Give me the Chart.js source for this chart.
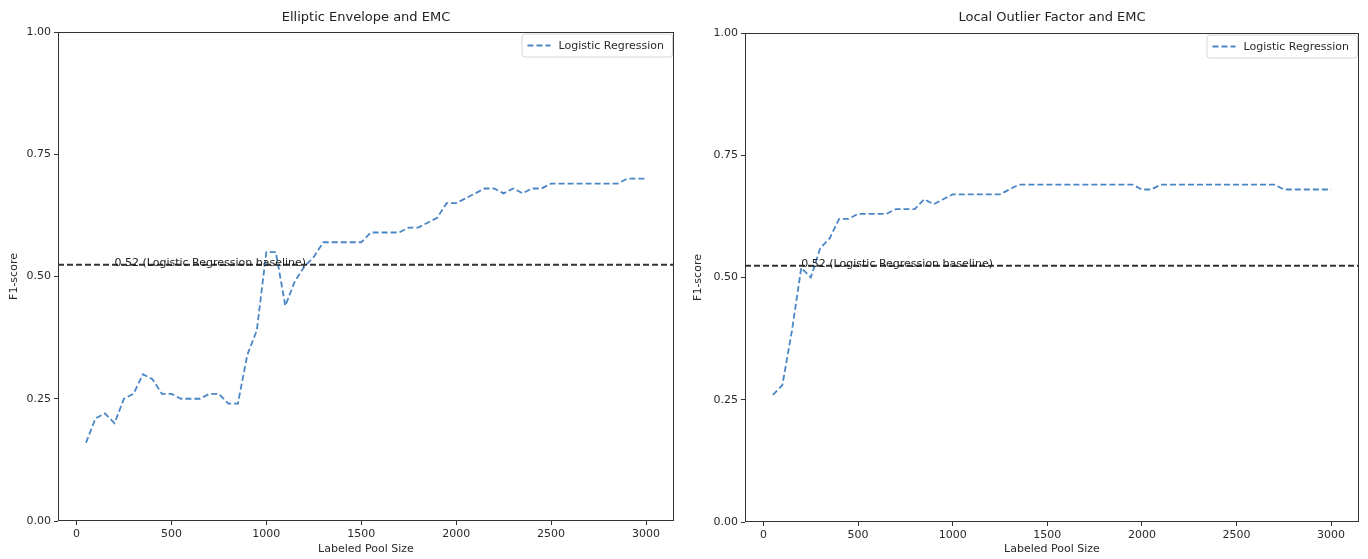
<!DOCTYPE html>
<html>
<head>
<meta charset="utf-8">
<title>F1-score vs Labeled Pool Size</title>
<script src="https://cdn.jsdelivr.net/npm/chart.js@4.4.1/dist/chart.umd.min.js"></script>
<style>
  html, body { margin: 0; padding: 0; background: #fff; }
  #wrap { position: relative; width: 1368px; height: 559px; }
  .panel { position: absolute; top: 0; width: 684px; height: 559px; }
</style>
</head>
<body>
<div id="wrap">
  <div class="panel" style="left:0"><canvas id="eeChart" width="684" height="559"></canvas></div>
  <div class="panel" style="left:684px"><canvas id="lofChart" width="684" height="559"></canvas></div>
</div>
<script>
// labeled pool sizes: 50, 100, ..., 3000
const poolSizes = [
  50, 100, 150, 200, 250, 300, 350, 400, 450, 500,
  550, 600, 650, 700, 750, 800, 850, 900, 950, 1000,
  1050, 1100, 1150, 1200, 1250, 1300, 1350, 1400, 1450, 1500,
  1550, 1600, 1650, 1700, 1750, 1800, 1850, 1900, 1950, 2000,
  2050, 2100, 2150, 2200, 2250, 2300, 2350, 2400, 2450, 2500,
  2550, 2600, 2650, 2700, 2750, 2800, 2850, 2900, 2950, 3000
];

// F1-score of logistic regression, Elliptic Envelope + EMC
const ellipticF1 = [
  0.16, 0.21, 0.22, 0.20, 0.25, 0.26, 0.30, 0.29, 0.26, 0.26,
  0.25, 0.25, 0.25, 0.26, 0.26, 0.24, 0.24, 0.34, 0.39, 0.55,
  0.55, 0.44, 0.49, 0.52, 0.54, 0.57, 0.57, 0.57, 0.57, 0.57,
  0.59, 0.59, 0.59, 0.59, 0.60, 0.60, 0.61, 0.62, 0.65, 0.65,
  0.66, 0.67, 0.68, 0.68, 0.67, 0.68, 0.67, 0.68, 0.68, 0.69,
  0.69, 0.69, 0.69, 0.69, 0.69, 0.69, 0.69, 0.70, 0.70, 0.70
];

// F1-score of logistic regression, Local Outlier Factor + EMC
const lofF1 = [
  0.26, 0.28, 0.39, 0.52, 0.50, 0.56, 0.58, 0.62, 0.62, 0.63,
  0.63, 0.63, 0.63, 0.64, 0.64, 0.64, 0.66, 0.65, 0.66, 0.67,
  0.67, 0.67, 0.67, 0.67, 0.67, 0.68, 0.69, 0.69, 0.69, 0.69,
  0.69, 0.69, 0.69, 0.69, 0.69, 0.69, 0.69, 0.69, 0.69, 0.68,
  0.68, 0.69, 0.69, 0.69, 0.69, 0.69, 0.69, 0.69, 0.69, 0.69,
  0.69, 0.69, 0.69, 0.69, 0.68, 0.68, 0.68, 0.68, 0.68, 0.68
];

const baselineF1 = 0.524;   // full-data logistic regression
const baselineLabelAt = 200;

const xTicks = [0, 500, 1000, 1500, 2000, 2500, 3000];
const yTicks = [0, 0.25, 0.5, 0.75, 1.0];
const xMin = -97.5, xMax = 3147.5;

const FONT = 'DejaVu Sans';
const lineBlue = '#4a86c6';
const ink = '#333333';
const textInk = '#2a2a2a';

// frame, baseline caption and in-axes legend
const decorPlugin = {
  id: 'decor',
  afterDraw(chart) {
    const { ctx, chartArea: a, scales } = chart;
    ctx.save();
    ctx.strokeStyle = ink;
    ctx.lineWidth = 1;
    ctx.strokeRect(a.left + 0.5, a.top + 0.5, a.right - a.left - 1, a.bottom - a.top - 1);

    // caption above the baseline
    ctx.fillStyle = '#222';
    ctx.font = '11px "' + FONT + '"';
    ctx.textBaseline = 'alphabetic';
    ctx.textAlign = 'left';
    const bx = scales.x.getPixelForValue(baselineLabelAt);
    const by = scales.y.getPixelForValue(baselineF1);
    ctx.fillText(baselineF1.toFixed(2) + ' (Logistic Regression baseline)', bx, by + 1);

    // legend box, upper right
    const label = chart.data.datasets[0].label;
    ctx.font = '11px "' + FONT + '"';
    const tw = ctx.measureText(label).width;
    const w = tw + 45, h = 23;
    const x0 = a.right - 2 - w, y0 = a.top + 1.5;
    ctx.fillStyle = 'rgba(255,255,255,0.85)';
    ctx.strokeStyle = '#d6d6d6';
    ctx.beginPath();
    ctx.roundRect(x0 + 0.5, y0 + 0.5, w, h, 3);
    ctx.fill();
    ctx.stroke();
    ctx.strokeStyle = lineBlue;
    ctx.lineWidth = 1.8;
    ctx.setLineDash([6, 3]);
    ctx.beginPath();
    ctx.moveTo(x0 + 6, y0 + h / 2 + 0.5);
    ctx.lineTo(x0 + 29, y0 + h / 2 + 0.5);
    ctx.stroke();
    ctx.setLineDash([]);
    ctx.fillStyle = textInk;
    ctx.textBaseline = 'middle';
    ctx.fillText(label, x0 + 37, y0 + h / 2 + 1);
    ctx.restore();
  }
};

function makeChart(canvasId, title, values, area) {
  const points = poolSizes.map((x, i) => ({ x: x, y: values[i] }));
  return new Chart(document.getElementById(canvasId), {
    type: 'line',
    data: {
      datasets: [{
        label: 'Logistic Regression',
        data: points,
        borderColor: lineBlue,
        borderWidth: 1.8,
        borderDash: [6, 3],
        pointRadius: 0,
        tension: 0,
        fill: false
      }, {
        label: 'baseline',
        data: [{ x: xMin, y: baselineF1 }, { x: xMax, y: baselineF1 }],
        borderColor: ink,
        borderWidth: 1.8,
        borderDash: [6, 3],
        pointRadius: 0,
        fill: false
      }]
    },
    options: {
      responsive: false,
      animation: false,
      devicePixelRatio: 1,
      layout: { padding: { left: 0, right: 684 - area.right, top: 0, bottom: 0 } },
      plugins: {
        legend: { display: false },
        tooltip: { enabled: false },
        title: {
          display: true,
          fullSize: false,
          text: title,
          color: '#222',
          font: { family: FONT, size: 13, weight: 'normal' },
          padding: { top: 10, bottom: area.top - 25.6 }
        }
      },
      scales: {
        x: {
          type: 'linear',
          min: xMin,
          max: xMax,
          afterBuildTicks: s => { s.ticks = xTicks.map(v => ({ value: v })); },
          afterFit: s => { s.height = 559 - area.bottom; },
          border: { display: false },
          grid: { drawOnChartArea: false, drawTicks: true, tickLength: 4, color: ink },
          ticks: {
            color: textInk,
            padding: 3,
            maxRotation: 0,
            font: { family: FONT, size: 11 },
            callback: v => String(v)
          },
          title: {
            display: true,
            text: 'Labeled Pool Size',
            color: textInk,
            font: { family: FONT, size: 11 },
            padding: { top: 0, bottom: 3.2 }
          }
        },
        y: {
          type: 'linear',
          min: 0,
          max: 1,
          afterBuildTicks: s => { s.ticks = yTicks.map(v => ({ value: v })); },
          afterFit: s => { s.width = area.left; },
          border: { display: false },
          grid: { drawOnChartArea: false, drawTicks: true, tickLength: 4, color: ink },
          ticks: {
            color: textInk,
            padding: 3,
            font: { family: FONT, size: 11 },
            callback: v => Number(v).toFixed(2)
          },
          title: {
            display: true,
            text: 'F1-score',
            color: textInk,
            font: { family: FONT, size: 11 },
            padding: { top: 7.5, bottom: 0 }
          }
        }
      }
    },
    plugins: [decorPlugin]
  });
}

makeChart('eeChart', 'Elliptic Envelope and EMC', ellipticF1, { left: 58, right: 674, top: 32, bottom: 521 });
makeChart('lofChart', 'Local Outlier Factor and EMC', lofF1, { left: 61, right: 675, top: 33, bottom: 522 });
</script>
</body>
</html>
